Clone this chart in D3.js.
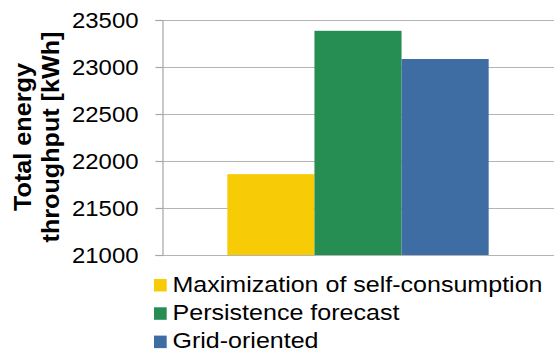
<!DOCTYPE html>
<html>
<head>
<meta charset="utf-8">
<script src="https://cdn.jsdelivr.net/npm/d3@7"></script>
<style>
  html, body { margin: 0; padding: 0; background: #fff; }
  svg { display: block; font-family: "Liberation Sans", Arial, sans-serif; }
</style>
</head>
<body>
<svg id="chart" width="555" height="351"></svg>
<script>
// Strategies compared and their total energy throughput
const strategies = ["Maximization of self-consumption", "Persistence forecast", "Grid-oriented"];
const throughput = [21860, 23385, 23085];
const colors = ["#F8CB07", "#268E52", "#3E6DA4"];
const yTicks = [21000, 21500, 22000, 22500, 23000, 23500];
const yTitle = ["Total energy", "throughput [kWh]"];

const svg = d3.select("#chart");
const plot = { left: 162, right: 554, top: 20, bottom: 255 };

const y = d3.scaleLinear().domain([21000, 23500]).range([plot.bottom, plot.top]);

// single category: bars side by side with a 150% gap shared on both sides
const barW = (plot.right - plot.left) / (strategies.length + 1.5);
const groupStart = plot.left + barW * 0.75;
const x = d3.scaleBand().domain(strategies)
  .range([groupStart, groupStart + barW * strategies.length]).padding(0);

// gridlines
svg.append("g")
  .selectAll("line")
  .data(yTicks)
  .join("line")
  .attr("x1", plot.left).attr("x2", plot.right)
  .attr("y1", d => Math.round(y(d)) + 0.5).attr("y2", d => Math.round(y(d)) + 0.5)
  .attr("stroke", "#b4b4b4").attr("stroke-width", 1.2);

// bars
svg.append("g")
  .selectAll("rect")
  .data(strategies)
  .join("rect")
  .attr("x", d => x(d))
  .attr("width", x.bandwidth())
  .attr("y", (d, i) => y(throughput[i]))
  .attr("height", (d, i) => y(21000) - y(throughput[i]))
  .attr("fill", (d, i) => colors[i]);

// y axis
const yAxis = d3.axisLeft(y).tickValues(yTicks).tickSize(7).tickPadding(17).tickFormat(d3.format("d"));
const gy = svg.append("g").attr("transform", `translate(${plot.left + 0.5},0)`).call(yAxis);
gy.select(".domain").attr("stroke", "#a6a6a6").attr("stroke-width", 1.2);
gy.selectAll(".tick line").attr("stroke", "#a6a6a6").attr("stroke-width", 1.2);
gy.selectAll(".tick text")
  .attr("font-size", 22).attr("fill", "#000")
  .attr("font-family", "'Liberation Sans', Arial, sans-serif")
  .attr("dy", "0.35em")
  .attr("textLength", 66.5).attr("lengthAdjust", "spacingAndGlyphs");

// y axis title, two centred lines
const titleLen = [148, 211];
const title = svg.append("text")
  .attr("transform", "translate(0,137) rotate(-90)")
  .attr("text-anchor", "middle")
  .attr("font-weight", "bold")
  .attr("font-size", 24)
  .attr("fill", "#000");
title.selectAll("tspan").data(yTitle).join("tspan")
  .attr("x", 0)
  .attr("y", (d, i) => 31 + i * 27.5)
  .attr("textLength", (d, i) => titleLen[i]).attr("lengthAdjust", "spacingAndGlyphs")
  .text(d => d);

// legend
const legendLen = [370, 227, 146];
const legend = svg.append("g").attr("transform", "translate(154,291.5)");
const rows = legend.selectAll("g").data(strategies).join("g")
  .attr("transform", (d, i) => `translate(0,${i * 28.3})`);
rows.append("rect").attr("x", 0).attr("y", -12.5).attr("width", 12.7).attr("height", 12.5)
  .attr("fill", (d, i) => colors[i]);
rows.append("text").attr("x", 18.5).attr("y", 0)
  .attr("font-size", 22).attr("fill", "#000")
  .attr("textLength", (d, i) => legendLen[i]).attr("lengthAdjust", "spacingAndGlyphs")
  .text(d => d);
</script>
</body>
</html>
